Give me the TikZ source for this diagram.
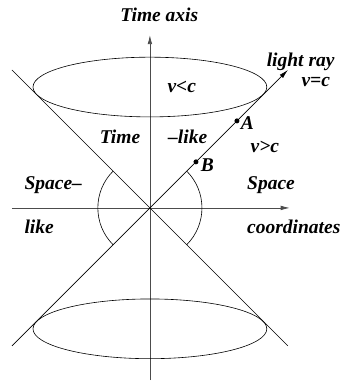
\documentclass[tikz,border=0pt]{standalone}
\usepackage{fontspec}
\setmainfont{Liberation Serif}
\usetikzlibrary{arrows.meta}

\begin{document}
\begin{tikzpicture}[
    axis/.style={draw=black!70, line width=0.8pt, -{Latex[length=3.2mm, width=1.6mm]}},
    cone/.style={draw=black, line width=0.6pt},
    label/.style={font=\fontsize{19.5}{23}\selectfont\bfseries\itshape, inner sep=1pt},
    event/.style={circle, fill=black, inner sep=0pt, minimum size=5pt}
]
    \useasboundingbox (-5.27,-6.19) rectangle (6.78,7.31);

    % Origin and axes
    \coordinate (O) at (0,0);
    \coordinate (tbot) at (0,-6.05);
    \coordinate (ttop) at (0,6.08);
    \coordinate (xleft) at (-4.85,0);
    \coordinate (xright) at (4.92,0);
    \draw[axis] (tbot) -- (ttop);
    \draw[axis] (xleft) -- (xright);

    % Light cone
    \coordinate (ul) at (-4.85,4.85);
    \coordinate (lr) at (4.85,-4.85);
    \coordinate (ll) at (-4.85,-4.85);
    \coordinate (ur) at (4.85,4.85);
    \draw[cone] (ul) -- (lr);
    \draw[cone, -{Latex[length=3.2mm, width=1.6mm]}] (ll) -- (ur);
    \draw[cone] (0,4.25) ellipse (4.11 and 1.05);
    \draw[cone] (0,-4.25) ellipse (4.11 and 1.05);
    \draw[cone] (135:1.83) arc (135:225:1.83);
    \draw[cone] (-45:1.83) arc (-45:45:1.83);

    % Events
    \node[event] (A) at (3.06,3.06) {};
    \node[event] (B) at (1.62,1.62) {};
    \node[label] at (3.43,2.99) {A};
    \node[label] at (2.02,1.49) {B};

    % Labels
    \node[label] (taxis) at (0.33,6.78) {Time axis};
    \node[label] (ray) at (5.3,5.13) {light ray};
    \node[label] (vc) at (5.83,4.43) {v=c};
    \node[label] (vlt) at (1.12,4.25) {v<c};
    \node[label, anchor=east] (time) at (-0.3,2.5) {Time};
    \node[label, anchor=west] (like) at (0.6,2.5) {–like};
    \node[label] (vgt) at (4.04,2.14) {v>c};
    \node[label, anchor=west] (spl) at (-4.45,0.81) {Space–};
    \node[label, anchor=west] (likel) at (-4.45,-0.67) {like};
    \node[label, anchor=west] (spr) at (3.38,0.81) {Space};
    \node[label, anchor=west] (coord) at (3.38,-0.67) {coordinates};

\end{tikzpicture}
\end{document}
